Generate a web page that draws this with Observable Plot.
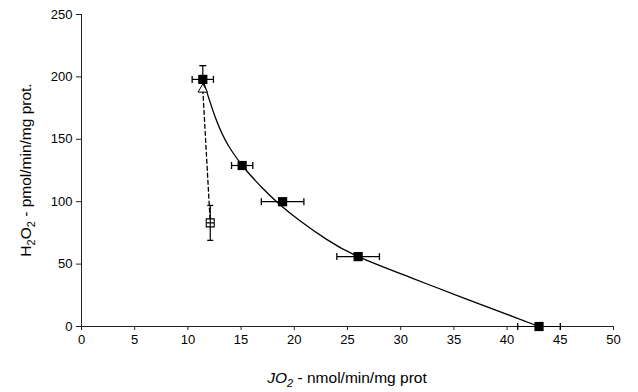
<!DOCTYPE html>
<html><head><meta charset="utf-8">
<script src="https://cdn.jsdelivr.net/npm/d3@7"></script>
<script src="https://cdn.jsdelivr.net/npm/@observablehq/plot@0.6"></script>
<style>body{margin:0;background:#fff}</style>
</head><body><div id="chart"></div><script>
const xTicks = [0, 5, 10, 15, 20, 25, 30, 35, 40, 45, 50];
const yTicks = [0, 50, 100, 150, 200, 250];

// filled squares (solid series)
const filledX = [11.4, 15.1, 18.9, 26, 43];
const filledY = [198, 129, 100, 56, 0];
const filledXErr = [1, 1, 2, 2, 2];
const filledYErr = [11, 0, 0, 0, 0];

// open square (dashed series)
const openX = [12.1];
const openY = [83];
const openYErr = [14];
const triX = [11.4];
const triY = [190];

// fitted solid curve
const fitX = [11.4, 12.6, 13.8, 15.4, 17, 18.6, 20.5, 23, 26, 31, 36, 43];
const fitY = [198, 167, 145, 126, 111, 98, 85, 70, 56, 39, 22.5, 0];

const filled = filledX.map((x, i) => ({x, y: filledY[i], ex: filledXErr[i], ey: filledYErr[i]}));
const open = openX.map((x, i) => ({x, y: openY[i], ey: openYErr[i]}));
const fit = fitX.map((x, i) => ({x, y: fitY[i]}));
const dashed = [{x: triX[0], y: triY[0]}, {x: openX[0], y: openY[0]}];
const tri = triX.map((x, i) => ({x, y: triY[i]}));

const vcap = {draw(ctx, size) { const r = Math.sqrt(size / Math.PI); ctx.moveTo(0, -r); ctx.lineTo(0, r); }};
const hcap = {draw(ctx, size) { const r = Math.sqrt(size / Math.PI); ctx.moveTo(-r, 0); ctx.lineTo(r, 0); }};
const boxPlus = {draw(ctx, size) { const r = Math.sqrt(size / Math.PI);
  ctx.moveTo(-r, -r); ctx.lineTo(r, -r); ctx.lineTo(r, r); ctx.lineTo(-r, r); ctx.closePath();
  ctx.moveTo(0, -r); ctx.lineTo(0, r); ctx.moveTo(-r, 0); ctx.lineTo(r, 0); }};

const xe = filled.filter(d => d.ex > 0);
const ye = filled.filter(d => d.ey > 0);

const chart = Plot.plot({
  width: 638, height: 392,
  marginLeft: 81, marginRight: 25, marginTop: 14, marginBottom: 66,
  style: {fontFamily: "'Liberation Sans', Arial, sans-serif", fontSize: "13px", color: "#000", background: "#fff"},
  x: {domain: [0, 50]},
  y: {domain: [0, 250]},
  marks: [
    Plot.axisX({ticks: xTicks, tickSize: 4, tickPadding: 4, label: null, tickFormat: d => d}),
    Plot.axisY({ticks: yTicks, tickSize: 5, tickPadding: 4, label: null, tickFormat: d => d}),
    Plot.ruleY([0], {stroke: "#222"}),
    Plot.ruleX([0], {stroke: "#222"}),
    Plot.line(fit, {x: "x", y: "y", curve: "natural", stroke: "#000", strokeWidth: 1.3}),
    Plot.line(dashed, {x: "x", y: "y", stroke: "#000", strokeWidth: 1.3, strokeDasharray: "4,3"}),
    // horizontal error bars
    Plot.link(xe, {x1: d => d.x - d.ex, x2: d => d.x + d.ex, y1: "y", y2: "y", stroke: "#000", strokeWidth: 1.2}),
    Plot.dot(xe, {x: d => d.x - d.ex, y: "y", symbol: vcap, r: 3.5, stroke: "#000", strokeWidth: 1.3}),
    Plot.dot(xe, {x: d => d.x + d.ex, y: "y", symbol: vcap, r: 3.5, stroke: "#000", strokeWidth: 1.3}),
    // vertical error bars
    Plot.link(ye, {x1: "x", x2: "x", y1: d => d.y - d.ey, y2: d => d.y + d.ey, stroke: "#000", strokeWidth: 1.2}),
    Plot.dot(ye, {x: "x", y: d => d.y + d.ey, symbol: hcap, r: 3.5, stroke: "#000", strokeWidth: 1.3}),
    Plot.link(open, {x1: "x", x2: "x", y1: d => d.y - d.ey, y2: d => d.y + d.ey, stroke: "#000", strokeWidth: 1.2}),
    Plot.dot(open, {x: "x", y: d => d.y + d.ey, symbol: hcap, r: 3, stroke: "#000", strokeWidth: 1.3}),
    Plot.dot(open, {x: "x", y: d => d.y - d.ey, symbol: hcap, r: 3, stroke: "#000", strokeWidth: 1.3}),
    Plot.dot(tri, {x: "x", y: "y", symbol: "triangle", r: 3.5, fill: "#fff", stroke: "#000", strokeWidth: 1}),
    Plot.dot(open, {x: "x", y: "y", symbol: boxPlus, r: 4, fill: "#fff", stroke: "#000", strokeWidth: 1.1}),
    Plot.dot(filled, {x: "x", y: "y", symbol: "square", r: 5.2, fill: "#000", stroke: "none"})
  ]
});

const svg = d3.select(chart);
svg.selectAll("[aria-label='x-axis tick'], [aria-label='y-axis tick']").attr("stroke", "#222");
const ylab = svg.append("text")
  .attr("transform", "translate(31,170) rotate(-90)")
  .attr("text-anchor", "middle")
  .attr("font-size", 15.5).attr("fill", "#000");
ylab.append("tspan").text("H");
ylab.append("tspan").attr("font-size", 11).attr("dy", 4).text("2");
ylab.append("tspan").attr("dy", -4).text("O");
ylab.append("tspan").attr("font-size", 11).attr("dy", 4).text("2");
ylab.append("tspan").attr("dy", -4).text(" - pmol/min/mg prot.");

const xlab = svg.append("text")
  .attr("transform", "translate(347,383)")
  .attr("text-anchor", "middle")
  .attr("font-size", 15.5).attr("fill", "#000");
xlab.append("tspan").attr("font-style", "italic").text("JO");
xlab.append("tspan").attr("font-style", "italic").attr("font-size", 11).attr("dy", 4).text("2");
xlab.append("tspan").attr("dy", -4).text(" - nmol/min/mg prot");

document.getElementById("chart").appendChild(chart);
</script></body></html>
